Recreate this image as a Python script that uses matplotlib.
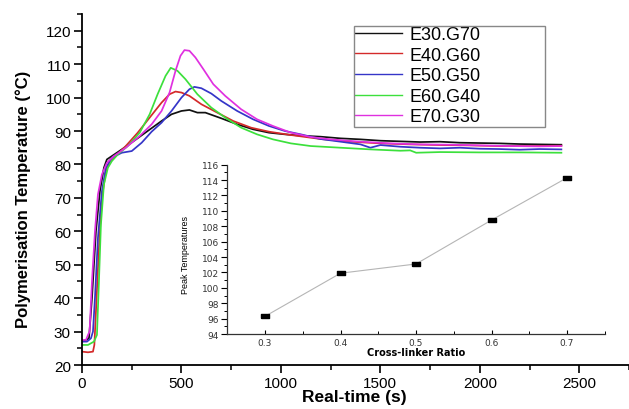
import numpy as np
import matplotlib
matplotlib.use("Agg")
import matplotlib.pyplot as plt
from matplotlib.ticker import MultipleLocator
from matplotlib.patches import Rectangle

plt.rcParams['font.family'] = ['Liberation Sans', 'DejaVu Sans']

# --- Data ---
labels = ["E30.G70", "E40.G60", "E50.G50", "E60.G40", "E70.G30"]
colors = ["#111111", "#d42a2a", "#3535c8", "#3ce03c", "#e030e0"]

t_e30 = [0, 20, 35, 50, 70, 90, 110, 125, 150, 200, 260, 330, 400, 450, 500, 540, 580, 620,
         700, 780, 860, 940, 1020, 1100, 1200, 1300, 1400, 1500, 1600, 1700, 1800, 1900,
         2000, 2100, 2200, 2300, 2410]
T_e30 = [27, 27.5, 28, 40, 60, 72, 79, 81.5, 82.5, 84.5, 87, 90, 93, 95, 96, 96.3, 95.5, 95.5,
         93.8, 92, 90.5, 89.5, 89, 88.6, 88.3, 87.8, 87.5, 87.1, 86.9, 86.7, 86.8, 86.5,
         86.4, 86.3, 86.1, 86.0, 85.9]

t_e40 = [0, 30, 55, 62, 70, 85, 100, 120, 140, 170, 220, 280, 340, 400, 440, 470, 500, 540,
         600, 680, 760, 850, 940, 1050, 1200, 1350, 1500, 1650, 1800, 1950, 2100, 2250, 2410]
T_e40 = [24, 23.8, 24, 26, 36, 55, 70, 78, 81, 82.5, 85.5, 89.5, 94, 98.5, 101, 101.8, 101.5, 100.5,
         98, 95.5, 93, 91, 89.8, 88.8, 87.6, 86.8, 86.3, 86, 85.8, 85.7, 85.5, 85.5, 85.6]

t_e50 = [0, 25, 45, 55, 65, 80, 100, 120, 150, 200, 250, 300, 350, 400, 450, 500, 540, 565,
         600, 650, 700, 780, 860, 940, 1020, 1100, 1200, 1300, 1400, 1450, 1500, 1600, 1700,
         1800, 1900, 2000, 2100, 2200, 2300, 2410]
T_e50 = [27, 27, 28, 30, 40, 58, 72, 79, 82, 83.5, 84, 86.5, 89.8, 92.5, 96, 100, 102.5, 103.2,
         102.8, 101.2, 99, 96, 93.5, 91.5, 90, 89, 87.6, 86.8, 86, 85, 85.8, 85.3, 85,
         84.8, 85, 84.7, 84.6, 84.4, 84.6, 84.5]

t_e60 = [0, 30, 60, 75, 85, 95, 110, 130, 150, 180, 230, 290, 340, 380, 420, 446, 480, 520,
         580, 650, 720, 800, 880, 960, 1050, 1150, 1300, 1450, 1600, 1650, 1680, 1800, 2000,
         2200, 2410]
T_e60 = [26, 26, 27, 29, 45, 62, 74, 79, 81, 83, 85.5, 89.5, 95, 101, 106.5, 108.9, 108, 105.5,
         101, 97, 94, 91, 89, 87.5, 86.3, 85.5, 85, 84.5, 84.1, 84.2, 83.5, 83.7, 83.6,
         83.6, 83.5]

t_e70 = [0, 20, 30, 38, 50, 65, 80, 100, 125, 160, 220, 290, 350, 400, 440, 470, 495, 515,
         540, 570, 610, 660, 720, 800, 880, 960, 1050, 1150, 1250, 1400, 1550, 1700, 1850,
         2000, 2150, 2300, 2410]
T_e70 = [27.5, 27.5, 29, 30, 45, 60, 71, 77, 80.5, 82.5, 85, 88.5, 92, 96, 101.5, 108, 112.5, 114.2,
         114, 112, 108.5, 104, 100.5, 96.5, 93.5, 91.5, 89.5, 88.2, 87.5, 86.8, 86.3, 86, 85.9,
         85.7, 85.5, 85.4, 85.5]

times = [t_e30, t_e40, t_e50, t_e60, t_e70]
temps = [T_e30, T_e40, T_e50, T_e60, T_e70]

# inset: peak temperature vs cross-linker ratio
ratio = [0.3, 0.4, 0.5, 0.6, 0.7]
peak_T = [96.3, 101.9, 103.1, 108.8, 114.3]

fig = plt.figure(figsize=(6.29, 4.10), dpi=100)
ax = fig.add_axes([0.1304, 0.1073, 0.8696, 0.8561])

for t, T, c, lab in zip(times, temps, colors, labels):
    ax.plot(t, T, color=c, lw=1.25, label=lab)

ax.set_xlim(0, 2750)
ax.set_ylim(20, 125)
ax.xaxis.set_major_locator(MultipleLocator(500))
ax.xaxis.set_minor_locator(MultipleLocator(250))
ax.yaxis.set_major_locator(MultipleLocator(10))
ax.yaxis.set_minor_locator(MultipleLocator(5))
for s in ['top', 'right']:
    ax.spines[s].set_visible(False)
for s in ['left', 'bottom']:
    ax.spines[s].set_linewidth(1.3)
ax.tick_params(which='major', direction='out', length=5.5, width=1.2, labelsize=11, pad=2.5)
ax.tick_params(which='minor', direction='out', length=3.5, width=1.1)
ax.set_xlabel('Real-time (s)', fontsize=12.5, fontweight='bold')
ax.xaxis.set_label_coords(0.498, -0.068)
ax.set_ylabel('Polymerisation Temperature (°C)', fontsize=12, fontweight='bold')
ax.yaxis.set_label_coords(-0.093, 0.474)

# legend without its own frame; the box is drawn separately to match the wide reference box
leg = ax.legend(loc='upper left', bbox_to_anchor=(355 / 629, 1 - 27 / 410),
                bbox_transform=fig.transFigure, borderaxespad=0, fontsize=13,
                frameon=False, labelspacing=0.2, borderpad=0,
                handlelength=2.6, handletextpad=0.4)
for h in leg.get_lines():
    h.set_linewidth(1.0)
fig.patches.append(Rectangle((354 / 629, 1 - 128 / 410), 191 / 629, 101 / 410,
                             transform=fig.transFigure, fill=False,
                             edgecolor='#888888', linewidth=1.0))

# --- inset ---
axin = fig.add_axes([0.3614, 0.1829, 0.600, 0.413])
axin.plot(ratio, peak_T, color='#b5b5b5', lw=0.8, zorder=1)
rect = [(-2, -1), (2, -1), (2, 1), (-2, 1), (-2, -1)]
axin.plot(ratio, peak_T, ls='none', marker=rect, markersize=5.5, color='black', zorder=2)
axin.set_xlim(0.25, 0.75)
axin.set_ylim(94, 116)
axin.xaxis.set_major_locator(MultipleLocator(0.1))
axin.xaxis.set_minor_locator(MultipleLocator(0.05))
axin.yaxis.set_major_locator(MultipleLocator(2))
axin.yaxis.set_minor_locator(MultipleLocator(1))
axin.patch.set_alpha(0)
for s in ['top', 'right']:
    axin.spines[s].set_visible(False)
for s in ['left', 'bottom']:
    axin.spines[s].set_linewidth(0.9)
    axin.spines[s].set_color('#333333')
axin.tick_params(axis='y', which='major', direction='out', length=4, width=0.8, labelsize=6.5, pad=2)
axin.tick_params(axis='y', which='minor', direction='out', length=2.5, width=0.7)
axin.tick_params(axis='x', which='major', direction='in', length=3, width=0.8, labelsize=6.5, pad=3)
axin.tick_params(axis='x', which='minor', direction='in', length=2, width=0.7)
axin.set_xticklabels([f"{v:.1f}" for v in axin.get_xticks()])
for lbl in axin.get_xticklabels() + axin.get_yticklabels():
    lbl.set_family('DejaVu Sans')
    lbl.set_color('#333333')
axin.set_xlabel('Cross-linker Ratio', fontsize=7, fontweight='bold', family='DejaVu Sans')
axin.xaxis.set_label_coords(0.5, -0.078)
axin.set_ylabel('Peak Temperatures', fontsize=6.5)
axin.yaxis.set_label_coords(-0.098, 0.47)

fig.savefig('out.png', dpi=100)
